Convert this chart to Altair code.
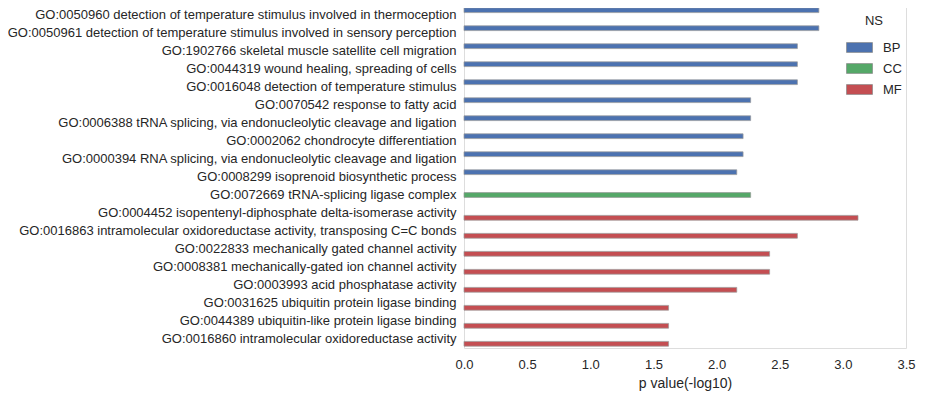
import altair as alt
import pandas as pd

terms = [
    "GO:0050960 detection of temperature stimulus involved in thermoception",
    "GO:0050961 detection of temperature stimulus involved in sensory perception",
    "GO:1902766 skeletal muscle satellite cell migration",
    "GO:0044319 wound healing, spreading of cells",
    "GO:0016048 detection of temperature stimulus",
    "GO:0070542 response to fatty acid",
    "GO:0006388 tRNA splicing, via endonucleolytic cleavage and ligation",
    "GO:0002062 chondrocyte differentiation",
    "GO:0000394 RNA splicing, via endonucleolytic cleavage and ligation",
    "GO:0008299 isoprenoid biosynthetic process",
    "GO:0072669 tRNA-splicing ligase complex",
    "GO:0004452 isopentenyl-diphosphate delta-isomerase activity",
    "GO:0016863 intramolecular oxidoreductase activity, transposing C=C bonds",
    "GO:0022833 mechanically gated channel activity",
    "GO:0008381 mechanically-gated ion channel activity",
    "GO:0003993 acid phosphatase activity",
    "GO:0031625 ubiquitin protein ligase binding",
    "GO:0044389 ubiquitin-like protein ligase binding",
    "GO:0016860 intramolecular oxidoreductase activity",
]
ns = ["BP"] * 10 + ["CC"] + ["MF"] * 8
pvals = [2.81, 2.81, 2.64, 2.64, 2.64, 2.27, 2.27, 2.21, 2.21, 2.16,
         2.27,
         3.12, 2.64, 2.42, 2.42, 2.16, 1.62, 1.62, 1.62]

ns_levels = ["BP", "CC", "MF"]
ns_colors = ["#4C72B0", "#55A868", "#C44E52"]
x_ticks = [0.0, 0.5, 1.0, 1.5, 2.0, 2.5, 3.0, 3.5]

df = pd.DataFrame({"term": terms, "NS": ns, "p": pvals})

font = "Liberation Sans"
chart = alt.Chart(df).mark_bar(stroke="#9a9a9a", strokeWidth=0.7).encode(
    y=alt.Y("term:N", sort=terms,
            scale=alt.Scale(paddingInner=0.2, paddingOuter=0.1),
            axis=alt.Axis(title=None, domain=False, ticks=False, grid=False,
                          labelFontSize=13, labelFont=font, labelColor="#262626",
                          labelPadding=8, labelLimit=600)),
    yOffset=alt.YOffset("NS:N", scale=alt.Scale(domain=ns_levels, paddingInner=0, paddingOuter=0)),
    x=alt.X("p:Q", scale=alt.Scale(domain=[0, 3.5], nice=False),
            axis=alt.Axis(title="p value(-log10)", values=x_ticks, format=".1f",
                          domain=False, ticks=False, grid=False, labelFlush=False,
                          labelFontSize=13, labelFont=font, labelColor="#262626",
                          labelPadding=10, titleFont=font, titleFontSize=14,
                          titleFontWeight="normal", titleColor="#262626", titlePadding=5)),
    color=alt.Color("NS:N", scale=alt.Scale(domain=ns_levels, range=ns_colors),
                    legend=alt.Legend(orient="none", legendX=382, legendY=9,
                                      title="NS", titleFont=font, titleFontSize=13,
                                      titleFontWeight="normal", titleColor="#262626",
                                      titleAnchor="middle", titlePadding=6,
                                      padding=0,
                                      labelFont=font, labelFontSize=13, labelColor="#262626",
                                      symbolType="M-1,-0.38H1V0.38H-1Z", symbolSize=676,
                                      symbolStrokeColor="#888", symbolStrokeWidth=0.7,
                                      rowPadding=-7, labelOffset=10)),
).properties(
    width=442, height=342,
    autosize=alt.AutoSizeParams(type="none"),
    padding={"left": 456, "top": -2, "right": 14, "bottom": 49},
).configure_view(strokeWidth=0).configure_legend(strokeWidth=0).configure(background="white")

chart.save("out.html", embed_options={"renderer": "svg", "actions": False})
